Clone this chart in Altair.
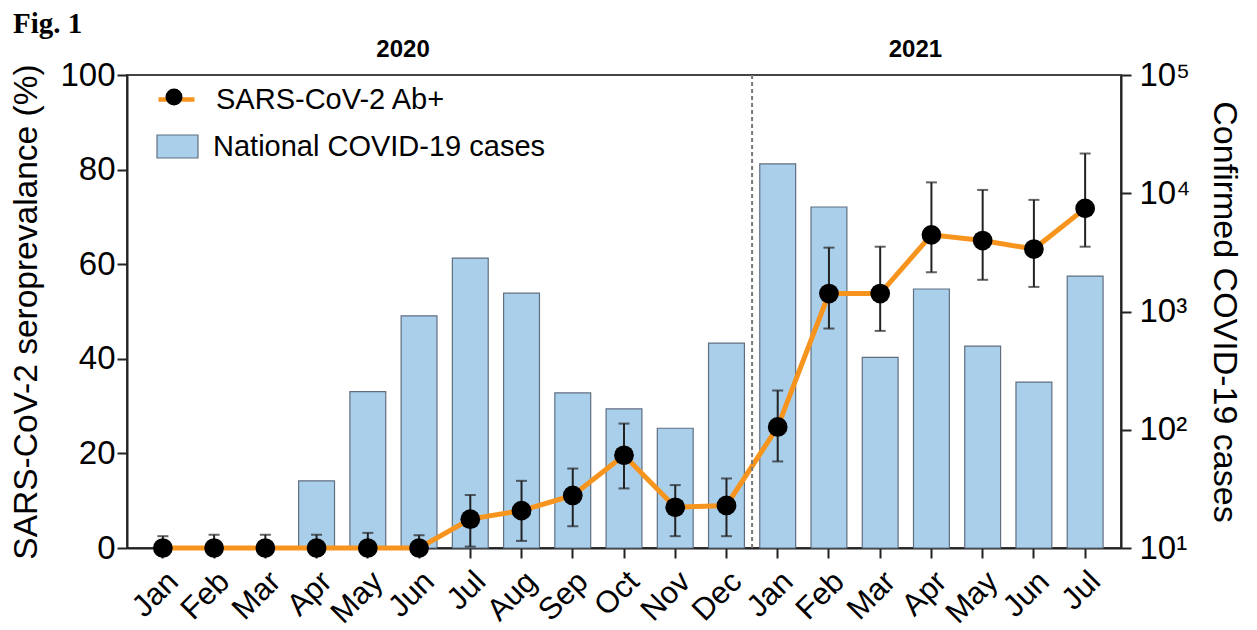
import altair as alt
import pandas as pd

months = ["Jan", "Feb", "Mar", "Apr", "May", "Jun", "Jul", "Aug", "Sep", "Oct", "Nov", "Dec",
          "Jan", "Feb", "Mar", "Apr", "May", "Jun", "Jul"]
years = [2020, 2020, 2020, 2020, 2020, 2020, 2020, 2020, 2020, 2020, 2020, 2020,
         2021, 2021, 2021, 2021, 2021, 2021, 2021]
cases = [None, None, None, 37, 210, 920, 2830, 1430, 205, 150, 103, 540,
         17700, 7650, 410, 1550, 510, 253, 1995]
sero = [0, 0, 0, 0, 0, 0, 6.1, 7.9, 11.1, 19.6, 8.6, 9.0,
        25.6, 53.8, 53.8, 66.2, 65.0, 63.2, 71.8]
sero_hi = [2.5, 2.8, 2.8, 2.8, 3.2, 2.7, 11.2, 14.2, 16.8, 26.3, 13.3, 14.7,
           33.3, 63.5, 63.7, 77.3, 75.7, 73.6, 83.4]
sero_lo = [0, 0, 0, 0, 0, 0, 0.3, 1.5, 4.6, 12.6, 2.5, 2.5,
           18.3, 46.4, 45.9, 58.3, 56.7, 55.2, 63.7]
year_labels = ["2020", "2021"]
year_label_at = ["Jun 2020", "Apr 2021"]

keys = [f"{m} {y}" for m, y in zip(months, years)]

W, H = 994, 473
P_IN, P_OUT = 0.3, 0.35
step = W / (len(keys) - P_IN + 2 * P_OUT)

FONT = "Liberation Sans"
ORANGE = "#f7941d"
BLUE = "#aacfeb"
BAR_STROKE = "#5f6f80"

df = pd.DataFrame({
    "key": keys, "idx": list(range(len(keys))), "cases": cases,
    "sero": sero, "hi": sero_hi, "lo": sero_lo,
    "lab_bar": "National COVID-19 cases",
    "lab_line": "SARS-CoV-2 Ab+",
    "lab_dot": "dot",
})
bars_df = df.dropna(subset=["cases"])
years_df = pd.DataFrame({"key": year_label_at, "text": year_labels})

xenc = alt.X("key:N", sort=keys,
             scale=alt.Scale(domain=keys, paddingInner=P_IN, paddingOuter=P_OUT),
             axis=alt.Axis(title=None, labelExpr="split(datum.value, ' ')[0]",
                           labelAngle=-45, labelFontSize=31, labelFont=FONT,
                           labelColor="black", tickSize=10, tickWidth=2,
                           tickColor="#222", domainColor="#222", domainWidth=2,
                           labelPadding=8))

bars = alt.Chart(bars_df).mark_bar(stroke=BAR_STROKE, strokeWidth=1.2).encode(
    x=xenc,
    y=alt.Y("cases:Q",
            scale=alt.Scale(type="log", domain=[10, 100000], nice=False),
            axis=alt.Axis(orient="right", values=[10, 100, 1000, 10000, 100000],
                          labelExpr="'10' + ['⁰','¹','²','³','⁴','⁵'][round(log(datum.value)/LN10)]",
                          title="Confirmed COVID-19 cases", titleFontSize=34,
                          titleFont=FONT, titleFontWeight="normal", titleColor="black",
                          labelFontSize=33, labelFont=FONT, labelColor="black",
                          tickSize=10, tickWidth=2, tickColor="#222",
                          domainColor="#222", domainWidth=2, labelPadding=8,
                          titlePadding=17, grid=False)),
    y2=alt.datum(10),
    color=alt.Color("lab_bar:N",
                    scale=alt.Scale(domain=["National COVID-19 cases"], range=[BLUE]),
                    legend=alt.Legend(title=None, orient="none", legendX=29, legendY=50,
                                      padding=0, symbolType="M-1,-0.56H1V0.56H-1Z",
                                      symbolSize=1681, symbolStrokeColor=BAR_STROKE,
                                      symbolStrokeWidth=1.2, symbolFillColor=BLUE,
                                      labelFontSize=29, labelFont=FONT, labelColor="black",
                                      labelOffset=14, labelLimit=0)),
)

yenc = alt.Y("sero:Q", scale=alt.Scale(domain=[0, 100], nice=False),
             axis=alt.Axis(values=[0, 20, 40, 60, 80, 100],
                           title="SARS-CoV-2 seroprevalance (%)", titleFontSize=33.5,
                           titleFont=FONT, titleFontWeight="normal", titleColor="black",
                           labelFontSize=33, labelFont=FONT, labelColor="black",
                           tickSize=10, tickWidth=2, tickColor="#222",
                           domainColor="#222", domainWidth=2, labelPadding=2,
                           titlePadding=16, grid=False))

base = alt.Chart(df)

divider = alt.Chart(pd.DataFrame({"key": ["Jan 2021"]})).mark_rule(
    strokeDash=[4, 3], color="#777", strokeWidth=2, xOffset=-step / 2
).encode(x=alt.X("key:N", sort=keys))

year_text = alt.Chart(years_df).mark_text(
    font=FONT, fontSize=24, fontWeight="bold", color="black", dx=-16, baseline="middle"
).encode(x=alt.X("key:N", sort=keys), y=alt.value(-25), text="text:N")

err = base.mark_rule(color="#222", strokeWidth=2).encode(
    x=alt.X("key:N", sort=keys), y=yenc, y2="hi:Q")
err_lo = base.mark_rule(color="#222", strokeWidth=2).encode(
    x=alt.X("key:N", sort=keys), y="lo:Q", y2="sero:Q")
cap_hi = base.mark_tick(color="#222", thickness=2, size=11).encode(
    x=alt.X("key:N", sort=keys), y="hi:Q")
cap_lo = base.transform_filter("datum.lo > 0").mark_tick(
    color="#222", thickness=2, size=11).encode(x=alt.X("key:N", sort=keys), y="lo:Q")

line = base.mark_line(strokeWidth=5).encode(
    x=alt.X("key:N", sort=keys), y="sero:Q", order="idx:Q",
    stroke=alt.Stroke("lab_line:N",
                      scale=alt.Scale(domain=["SARS-CoV-2 Ab+"], range=[ORANGE]),
                      legend=alt.Legend(title=None, orient="none", legendX=29, legendY=4,
                                        padding=0, symbolType="stroke", symbolSize=1296,
                                        symbolStrokeWidth=4.5, symbolStrokeColor=ORANGE,
                                        labelFontSize=29, labelFont=FONT,
                                        labelColor="black", labelOffset=19, labelLimit=0)))

dots = base.mark_point(filled=True, size=390, color="black", opacity=1).encode(
    x=alt.X("key:N", sort=keys), y="sero:Q",
    shape=alt.Shape("lab_dot:N",
                    scale=alt.Scale(domain=["dot"], range=["circle"]),
                    legend=alt.Legend(title=None, orient="none", legendX=38.5, legendY=13.5,
                                      padding=0, symbolSize=289, symbolFillColor="black",
                                      symbolStrokeColor="black", symbolStrokeWidth=0,
                                      symbolOpacity=1, labelExpr="''", labelFontSize=1)))

sero_layer = alt.layer(err, err_lo, cap_hi, cap_lo, line, dots, divider, year_text)

chart = alt.layer(bars, sero_layer).resolve_scale(
    y="independent", color="independent", stroke="independent", shape="independent"
).properties(
    width=W, height=H,
    title=alt.TitleParams("Fig. 1", anchor="start", frame="bounds",
                          font="Liberation Serif", fontSize=29, fontWeight="bold",
                          color="black", offset=-1, dx=3),
    padding={"left": 1, "top": 2, "right": 6, "bottom": 0},
).configure_view(stroke="#444", strokeWidth=2)

chart.save("out.html", embed_options={"renderer": "svg", "actions": False})
